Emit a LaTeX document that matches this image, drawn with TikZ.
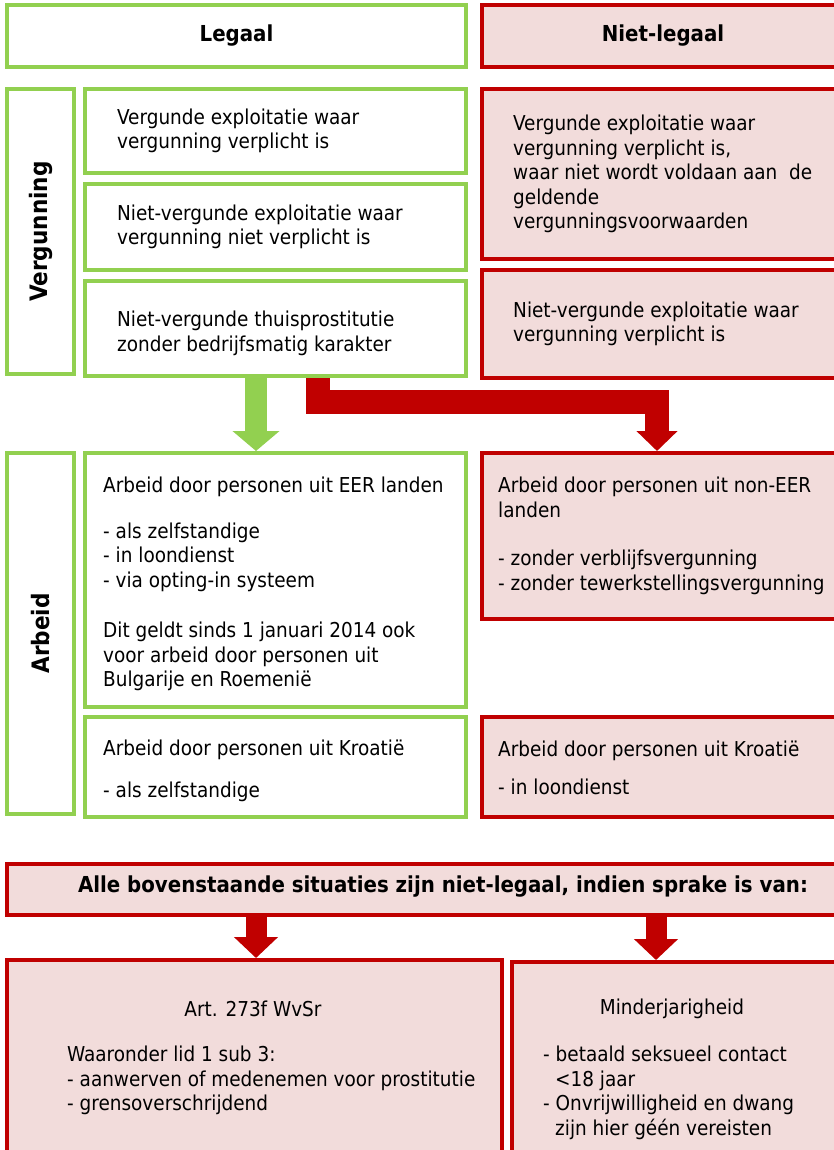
\documentclass[tikz,border=0pt]{standalone}
\usepackage{fontspec}
\setmainfont{DejaVu Sans Condensed}
\usetikzlibrary{positioning, arrows.meta}

\definecolor{lgreen}{HTML}{92D050}
\definecolor{dred}{HTML}{C00000}
\definecolor{lpink}{HTML}{F2DCDB}

\tikzset{
  greenbox/.style={draw=lgreen, line width=4pt, fill=white, inner sep=0pt, anchor=north west},
  redbox/.style={draw=dred, line width=4pt, fill=lpink, inner sep=0pt, anchor=north west},
  boxtext/.style={align=left, inner sep=0pt, font=\fontsize{20.5}{24.5}\selectfont},
  headtext/.style={inner sep=0pt, font=\fontsize{22}{26}\selectfont\bfseries},
  sidetext/.style={inner sep=0pt, rotate=90, font=\fontsize{24}{28}\selectfont\bfseries},
  greenarrow/.style={draw=lgreen, line width=22pt, -{Triangle[width=46pt,length=20pt]}},
  redarrow/.style={draw=dred, line width=24pt, line join=miter, -{Triangle[width=40pt,length=20pt]}}
}

\begin{document}
\begin{tikzpicture}[x=1pt, y=-1pt]

    % 1. Page frame
    \useasboundingbox (0,0) rectangle (834,1150);

    % 2. Column headers
    \node[greenbox, minimum width=459pt, minimum height=62pt] (legaal) at (5,3) {};
    \node[redbox, minimum width=362pt, minimum height=62pt] (nietlegaal) at (480,3) {};
    \node[headtext] (legaalt) at (legaal.center) {Legaal};
    \node[headtext] (nietlegaalt) at (nietlegaal.center) {Niet-legaal};

    % 3. Vergunning block
    \node[greenbox, minimum width=67pt, minimum height=285pt] (verg) at (5,87) {};
    \node[sidetext] (vergt) at (verg.center) {Vergunning};

    \node[greenbox, minimum width=381pt, minimum height=84pt] (g1) at (83,87) {};
    \node[greenbox, minimum width=381pt, minimum height=86pt] (g2) at (83,182) {};
    \node[greenbox, minimum width=381pt, minimum height=95pt] (g3) at (83,279) {};
    \node[redbox, minimum width=362pt, minimum height=170pt] (r1) at (480,87) {};
    \node[redbox, minimum width=362pt, minimum height=108pt] (r2) at (480,268) {};

    \node[boxtext, anchor=west, right=34pt of g1.west] (g1t) {Vergunde exploitatie waar\\vergunning verplicht is};
    \node[boxtext, anchor=west, right=34pt of g2.west] (g2t) {Niet-vergunde exploitatie waar\\vergunning niet verplicht is};
    \node[boxtext, anchor=west, right=34pt of g3.west, yshift=-5pt] (g3t) {Niet-vergunde thuisprostitutie\\zonder bedrijfsmatig karakter};
    \node[boxtext, anchor=west, right=33pt of r1.west] (r1t) {Vergunde exploitatie waar\\vergunning verplicht is,\\waar niet wordt voldaan aan~ de\\geldende\\vergunningsvoorwaarden};
    \node[boxtext, anchor=west, right=33pt of r2.west] (r2t) {Niet-vergunde exploitatie waar\\vergunning verplicht is};

    % 4. Arrows from the Vergunning block
    \coordinate (ga) at (256,0);
    \coordinate (ra) at (318,402);
    \coordinate (rb) at (657,402);

    % 5. Arbeid block
    \node[greenbox, minimum width=67pt, minimum height=361pt] (arb) at (5,451) {};
    \node[sidetext] (arbt) at (arb.center) {Arbeid};

    \node[greenbox, minimum width=381pt, minimum height=254pt] (g4) at (83,451) {};
    \node[greenbox, minimum width=381pt, minimum height=100pt] (g5) at (83,715) {};
    \node[redbox, minimum width=362pt, minimum height=166pt] (r3) at (480,451) {};
    \node[redbox, minimum width=362pt, minimum height=100pt] (r4) at (480,715) {};

    \node[boxtext, anchor=west, right=20pt of g4.west, yshift=-4pt] (g4t) {Arbeid door personen uit EER landen\\[21pt]- als zelfstandige\\- in loondienst\\- via opting-in systeem\\[26pt]Dit geldt sinds 1 januari 2014 ook\\voor arbeid door personen uit\\Bulgarije en Roemenië};
    \node[boxtext, anchor=west, right=20pt of g5.west, yshift=-4pt] (g5t) {Arbeid door personen uit Kroatië\\[17pt]- als zelfstandige};
    \node[boxtext, anchor=west, right=18pt of r3.west] (r3t) {Arbeid door personen uit non-EER\\landen\\[24pt]- zonder verblijfsvergunning\\- zonder tewerkstellingsvergunning};
    \node[boxtext, anchor=west, right=18pt of r4.west, yshift=-1pt] (r4t) {Arbeid door personen uit Kroatië\\[13pt]- in loondienst};

    \draw[greenarrow] (g3.south -| ga) -- (g4.north -| ga);
    \draw[redarrow] (g3.south -| ra) -- (ra) -- (rb) -- (r3.north -| rb);

    % 6. Bottom block
    \node[redbox, minimum width=837pt, minimum height=51pt] (alle) at (5,862) {};
    \node[headtext] (allet) at (443,887) {Alle bovenstaande situaties zijn niet-legaal, indien sprake is van:};

    \node[redbox, minimum width=495pt, minimum height=210pt] (b1) at (5,958) {};
    \node[redbox, minimum width=335pt, minimum height=210pt] (b2) at (510,960) {};

    \coordinate (la) at (256,0);
    \coordinate (lb) at (656,0);
    \draw[redarrow, line width=21pt, -{Triangle[width=43pt,length=21pt]}] (alle.south -| la) -- (b1.north -| la);
    \draw[redarrow, line width=21pt, -{Triangle[width=43pt,length=21pt]}] (alle.south -| lb) -- (b2.north -| lb);

    \node[boxtext] (b1h) at (253,1009) {Art. 273f WvSr};
    \node[boxtext, anchor=north west] (b1t) at (67,1046) {Waaronder lid 1 sub 3:\\- aanwerven of medenemen voor prostitutie\\- grensoverschrijdend};
    \node[boxtext] (b2h) at (672,1009) {Minderjarigheid};
    \node[boxtext, anchor=north west] (b2t) at (543,1046) {- betaald seksueel contact\\\hspace*{12pt}<18 jaar\\- Onvrijwilligheid en dwang\\\hspace*{12pt}zijn hier géén vereisten};

\end{tikzpicture}
\end{document}
